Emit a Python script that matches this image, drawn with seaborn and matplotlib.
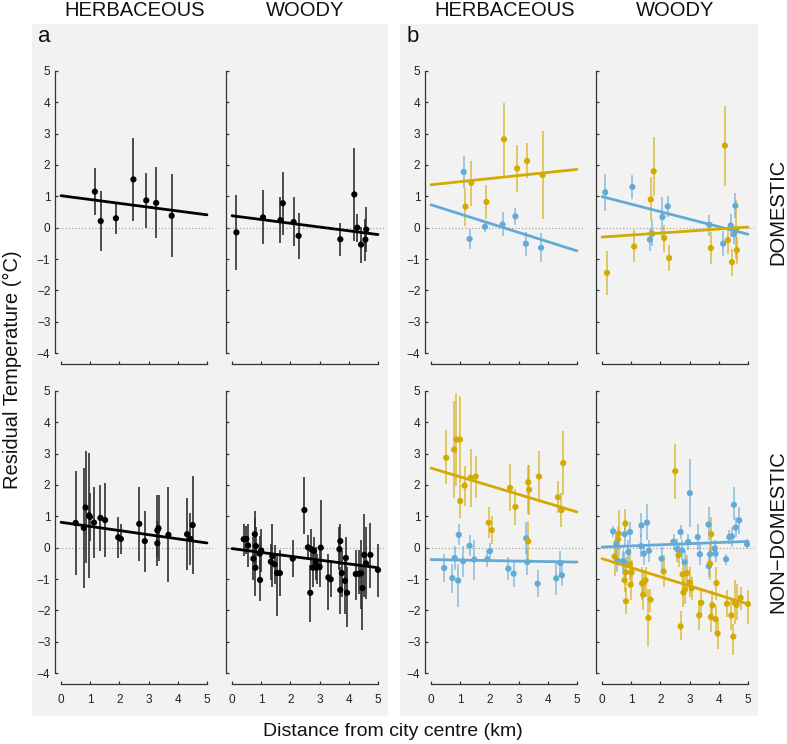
import numpy as np
import pandas as pd
import matplotlib
matplotlib.use("Agg")
import matplotlib.pyplot as plt
from matplotlib.patches import Rectangle
import seaborn as sns

# ---------------- datos ----------------
# panel a: todos los sitios juntos
a_herb_dom_x = [1.16, 1.36, 1.88, 2.48, 2.92, 3.26, 3.79]
a_herb_dom_y = [1.15, 0.21, 0.30, 1.54, 0.87, 0.79, 0.38]
a_herb_dom_lo = [0.40, -0.73, -0.20, 0.22, 0.00, -0.34, -0.94]
a_herb_dom_hi = [1.89, 1.18, 0.79, 2.85, 1.74, 1.94, 1.70]

a_woody_dom_x = [0.15, 1.06, 1.66, 1.74, 2.11, 2.28, 3.71, 4.19, 4.29, 4.42, 4.57, 4.60]
a_woody_dom_y = [-0.15, 0.33, 0.24, 0.78, 0.18, -0.26, -0.37, 1.06, 0.00, -0.54, -0.38, -0.06]
a_woody_dom_lo = [-1.34, -0.51, -0.48, -0.22, -0.60, -0.99, -0.90, -0.43, -0.45, -1.14, -1.05, -0.78]
a_woody_dom_hi = [1.04, 1.20, 0.99, 1.78, 0.99, 0.48, 0.15, 2.53, 0.45, 0.02, 0.28, 0.66]

a_herb_non_x = [0.50, 0.78, 0.84, 0.96, 0.99, 1.13, 1.35, 1.51, 1.96, 2.05,
                2.68, 2.87, 3.30, 3.30, 3.34, 3.68, 4.32, 4.43, 4.51]
a_herb_non_y = [0.79, 0.63, 1.28, 1.03, 0.98, 0.80, 0.95, 0.88, 0.33, 0.28,
                0.76, 0.21, 0.55, 0.14, 0.62, 0.41, 0.43, 0.28, 0.72]
a_herb_non_lo = [-0.86, -1.28, -0.49, -0.96, 0.21, -0.32, -0.12, -0.30, -0.32, -0.20,
                 -0.43, -0.78, -0.60, -0.30, -0.44, -1.10, -0.71, -0.54, -0.83]
a_herb_non_hi = [2.45, 2.55, 3.07, 3.03, 1.74, 1.93, 1.99, 2.07, 0.99, 0.74,
                 1.93, 1.18, 1.69, 0.85, 1.67, 1.93, 1.57, 1.11, 2.28]

a_woody_non_x = [0.40, 0.49, 0.55, 0.73, 0.78, 0.80, 0.82, 0.95, 0.96, 1.00,
                 1.33, 1.38, 1.46, 1.54, 1.64, 2.08, 2.48, 2.60, 2.68, 2.72,
                 2.77, 2.81, 2.87, 2.90, 3.00, 3.04, 3.30, 3.38, 3.68, 3.71,
                 3.71, 3.76, 3.87, 3.90, 3.94, 4.24, 4.35, 4.42, 4.47, 4.53,
                 4.59, 4.74, 5.00]
a_woody_non_y = [0.27, 0.28, 0.07, -0.35, 0.43, -0.64, 0.05, -0.19, -1.03, -0.09,
                 -0.45, -0.27, -0.53, -0.81, -0.81, -0.35, 1.20, 0.01, -1.44, -0.05,
                 -0.64, -0.11, -0.48, -0.64, -0.61, 0.00, -0.95, -1.01, -0.05, 0.21,
                 -1.35, -0.81, -1.06, -0.33, -1.44, -0.84, -0.83, -0.82, -1.29, -0.23,
                 -0.50, -0.23, -0.71]
a_woody_non_lo = [-0.27, -0.19, -0.62, -1.04, -0.51, -1.55, -0.62, -0.72, -1.69, -0.78,
                  -1.04, -1.26, -1.15, -2.17, -1.55, -0.94, 0.45, -0.40, -2.37, -0.72,
                  -1.26, -0.72, -1.04, -1.15, -1.26, -0.72, -2.00, -1.57, -0.72, -0.56,
                  -2.11, -1.57, -2.11, -1.04, -2.53, -1.66, -1.47, -1.95, -2.64, -1.57,
                  -1.63, -1.28, -1.57]
a_woody_non_hi = [0.77, 0.69, 0.74, 0.34, 1.16, 0.95, 0.66, 0.36, -0.40, 0.59,
                  0.13, 0.77, 0.07, -0.19, -0.09, 0.23, 2.24, 0.39, -0.56, 0.59,
                  -0.09, 0.34, 0.02, -0.19, -0.09, 1.51, -0.19, -0.40, 0.66, 0.74,
                  -0.62, -0.09, -0.40, 0.34, -0.62, -0.06, -0.06, 0.23, -0.62, 1.09,
                  0.66, 0.79, 0.13]

# panel b: dos grupos (dorado / azul)
b_herb_dom_gold_x = [1.18, 1.38, 1.90, 2.50, 2.95, 3.29, 3.82]
b_herb_dom_gold_y = [0.67, 1.43, 0.82, 2.82, 1.89, 2.13, 1.68]
b_herb_dom_gold_lo = [0.06, 0.70, 0.27, 1.66, 1.15, 1.57, 0.28]
b_herb_dom_gold_hi = [1.27, 2.14, 1.36, 3.98, 2.64, 2.69, 3.09]
b_herb_dom_blue_x = [1.12, 1.32, 1.85, 2.45, 2.89, 3.25, 3.77]
b_herb_dom_blue_y = [1.78, -0.36, 0.03, 0.10, 0.36, -0.51, -0.64]
b_herb_dom_blue_lo = [1.28, -0.68, -0.15, -0.28, 0.09, -0.89, -1.11]
b_herb_dom_blue_hi = [2.28, -0.04, 0.15, 0.49, 0.63, -0.15, -0.16]

b_woody_dom_blue_x = [0.11, 1.04, 1.64, 1.72, 2.07, 2.25, 3.68, 4.15, 4.41, 4.52, 4.57]
b_woody_dom_blue_y = [1.13, 1.30, -0.38, -0.19, 0.34, 0.68, 0.09, -0.51, 0.07, -0.21, 0.70]
b_woody_dom_blue_lo = [0.54, 0.93, -0.73, -0.57, -0.30, 0.34, -0.26, -0.89, -0.31, -0.52, 0.30]
b_woody_dom_blue_hi = [1.71, 1.67, -0.04, 0.23, 0.98, 1.00, 0.40, -0.10, 0.44, 0.06, 1.10]
b_woody_dom_gold_x = [0.17, 1.10, 1.67, 1.77, 2.13, 2.30, 3.73, 4.21, 4.31, 4.45, 4.59, 4.62]
b_woody_dom_gold_y = [-1.44, -0.60, 0.90, 1.80, -0.33, -0.97, -0.65, 2.62, -0.40, -1.10, -0.06, -0.72]
b_woody_dom_gold_lo = [-2.14, -1.11, 0.20, 1.00, -0.77, -1.39, -1.16, 1.34, -0.84, -1.53, -1.00, -1.16]
b_woody_dom_gold_hi = [-0.74, -0.07, 1.61, 2.88, 0.09, -0.55, -0.15, 3.89, -0.10, -0.68, 0.89, -0.31]

b_herb_non_gold_x = [0.52, 0.79, 0.87, 0.99, 1.00, 1.15, 1.36, 1.53, 1.98, 2.08,
                     2.71, 2.89, 3.33, 3.33, 3.36, 3.70, 4.35, 4.47, 4.53]
b_herb_non_gold_y = [2.87, 3.13, 3.45, 3.45, 1.49, 1.98, 2.23, 2.27, 0.80, 0.56,
                     1.91, 1.30, 2.09, 0.20, 1.85, 2.27, 1.61, 1.20, 2.70]
b_herb_non_gold_lo = [2.02, 1.57, 1.96, 2.06, 0.94, 1.32, 1.30, 1.60, 0.31, 0.11,
                      1.17, 0.73, 1.09, -0.40, 1.03, 1.51, 1.11, 0.66, 1.67]
b_herb_non_gold_hi = [3.74, 4.68, 4.94, 4.85, 2.02, 2.62, 3.15, 2.94, 1.30, 1.01,
                      2.66, 1.88, 2.63, 0.84, 2.64, 3.09, 2.12, 1.74, 3.72]
b_herb_non_blue_x = [0.45, 0.73, 0.81, 0.93, 0.95, 1.10, 1.32, 1.48, 1.93, 2.02,
                     2.65, 2.83, 3.26, 3.30, 3.65, 4.29, 4.43, 4.48]
b_herb_non_blue_y = [-0.65, -0.97, -0.33, -1.05, 0.41, -0.43, 0.06, -0.38, -0.37, -0.11,
                     -0.67, -0.83, 0.30, -0.46, -1.15, -0.98, -0.49, -0.88]
b_herb_non_blue_lo = [-1.10, -1.45, -0.72, -1.89, 0.09, -0.94, -0.28, -1.04, -0.62, -0.40,
                      -1.04, -1.26, -0.19, -0.88, -1.57, -1.52, -0.83, -1.23]
b_herb_non_blue_hi = [-0.19, -0.51, 0.04, -0.51, 0.74, 0.04, 0.39, 0.26, -0.09, 0.15,
                      -0.30, -0.46, 0.82, -0.03, -0.72, -0.46, -0.12, -0.51]

b_woody_non_blue_x = [0.38, 0.49, 0.52, 0.71, 0.76, 0.78, 0.90, 0.96, 1.34, 1.35,
                      1.43, 1.54, 1.61, 2.04, 2.45, 2.58, 2.69, 2.74, 2.83, 2.95,
                      3.01, 3.28, 3.35, 3.65, 3.66, 3.70, 3.86, 3.89, 4.25, 4.36,
                      4.45, 4.52, 4.58, 4.70, 4.97]
b_woody_non_blue_y = [0.52, 0.13, -0.40, -0.43, -0.46, 0.43, -0.14, 0.50, 0.05, 0.71,
                      -0.19, 0.80, -0.10, -0.35, 0.19, -0.05, 0.50, -0.09, -0.46, 0.18,
                      1.74, 0.34, -0.21, 0.74, -0.59, -0.21, -0.03, -0.19, -0.37, 0.34,
                      0.36, 1.37, 0.64, 0.87, 0.11]
b_woody_non_blue_lo = [0.34, -0.30, -0.78, -0.83, -0.94, 0.02, -0.56, 0.13, -0.30, 0.34,
                       -0.56, 0.23, -0.46, -0.72, -0.09, -0.46, 0.29, -0.40, -0.83, -0.09,
                       0.66, -0.09, -0.56, 0.23, -0.94, -0.56, -0.30, -0.46, -0.56, 0.13,
                       0.02, 0.87, 0.34, 0.45, -0.03]
b_woody_non_blue_hi = [0.68, 0.45, -0.03, -0.09, -0.14, 0.87, 0.23, 0.82, 0.45, 1.11,
                       0.13, 1.40, 0.23, 0.02, 0.45, 0.29, 0.72, 0.23, -0.09, 0.45,
                       2.82, 0.77, 0.13, 1.30, -0.24, 0.13, 0.23, 0.07, -0.19, 0.55,
                       0.66, 1.94, 0.98, 1.30, 0.29]
b_woody_non_gold_x = [0.43, 0.55, 0.57, 0.77, 0.80, 0.82, 0.82, 0.95, 0.98, 1.01,
                      1.37, 1.41, 1.43, 1.49, 1.59, 1.66, 2.11, 2.51, 2.62, 2.69,
                      2.76, 2.79, 2.84, 2.91, 3.00, 3.07, 3.33, 3.40, 3.70, 3.74,
                      3.73, 3.78, 3.89, 3.92, 3.96, 4.28, 4.43, 4.50, 4.55, 4.61,
                      4.75, 5.00]
b_woody_non_gold_y = [-0.28, 0.27, 0.45, -1.04, 0.77, -0.78, -1.71, -0.53, -1.18, -0.79,
                      -1.14, -1.50, -1.10, -1.04, -2.24, -1.66, -0.76, 2.44, -0.24, -2.51,
                      -0.85, -1.43, -1.34, -0.81, -1.11, -1.30, -2.16, -1.76, -0.51, 0.43,
                      -2.21, -1.84, -2.28, -1.13, -2.74, -1.79, -2.16, -2.84, -1.76, -1.83,
                      -1.60, -1.80]
b_woody_non_gold_lo = [-0.91, -0.09, -0.30, -1.41, 0.34, -1.20, -2.11, -1.04, -1.68, -1.26,
                       -1.68, -2.00, -1.47, -1.57, -3.17, -2.05, -1.26, 1.54, -0.62, -2.96,
                       -1.26, -1.89, -1.79, -1.31, -1.57, -1.68, -2.64, -2.11, -1.04, -0.14,
                       -2.69, -2.32, -2.74, -1.68, -3.22, -2.21, -2.64, -3.44, -2.43, -2.32,
                       -2.00, -2.43]
b_woody_non_gold_hi = [0.23, 0.66, 1.19, -0.72, 1.24, -0.30, -1.26, -0.03, -0.72, -0.40,
                       -0.62, -1.04, -0.72, -0.62, -1.31, -1.31, -0.24, 3.32, 0.13, -2.02,
                       -0.40, -0.99, -0.83, -0.24, -0.62, -0.94, -1.68, -1.36, -0.03, 0.98,
                       -1.73, -1.36, -1.84, -0.62, -2.32, -1.36, -1.68, -2.43, -1.04, -1.15,
                       -1.26, -1.36]

# rectas ajustadas: (intercepto, pendiente)
fit_a_herb_dom = (1.02, -0.122)
fit_a_woody_dom = (0.38, -0.120)
fit_a_herb_non = (0.81, -0.132)
fit_a_woody_non = (-0.03, -0.122)
fit_b_herb_dom_gold = (1.37, 0.098)
fit_b_herb_dom_blue = (0.73, -0.294)
fit_b_woody_dom_gold = (-0.30, 0.064)
fit_b_woody_dom_blue = (0.99, -0.240)
fit_b_herb_non_gold = (2.54, -0.280)
fit_b_herb_non_blue = (-0.38, -0.016)
fit_b_woody_non_gold = (-0.35, -0.290)
fit_b_woody_non_blue = (0.02, 0.036)

x_ticks = [0, 1, 2, 3, 4, 5]
y_ticks = [-4, -3, -2, -1, 0, 1, 2, 3, 4, 5]
col_titles = ["HERBACEOUS", "WOODY"]
row_titles = ["DOMESTIC", "NON\u2212DOMESTIC"]

NEGRO = "black"
DORADO = "#d4aa00"
AZUL = "#64aad6"

# ---------------- figura ----------------
sns.set_theme(style="ticks")
plt.rcParams["font.family"] = ["Liberation Sans", "DejaVu Sans"]
plt.rcParams["axes.unicode_minus"] = True

W, H = 787, 744
fig = plt.figure(figsize=(W / 100, H / 100), dpi=100)

def caja(left, top, right, bottom):
    return [left / W, 1 - bottom / H, (right - left) / W, (bottom - top) / H]

# fondos grises de los paneles a y b
for x0, x1 in [(32, 388), (400, 758)]:
    fig.patches.append(Rectangle((x0 / W, 1 - 716 / H), (x1 - x0) / W, (716 - 24) / H,
                                 transform=fig.transFigure, facecolor="#f2f2f2",
                                 edgecolor="none", zorder=-5))

def serie(ax, x, y, lo, hi, color, ebar_color, ebar_alpha, ebar_lw, s):
    ax.vlines(x, lo, hi, color=ebar_color, alpha=ebar_alpha, lw=ebar_lw, zorder=2)
    sns.scatterplot(x=x, y=y, color=color, s=s, edgecolor="none", ax=ax,
                    zorder=3, legend=False)

def recta(ax, fit, color):
    xs = np.array([0.0, 5.0])
    sns.lineplot(x=xs, y=fit[0] + fit[1] * xs, color=color, lw=2.0, ax=ax,
                 zorder=4, legend=False)

def preparar(ax, ylabels, xlabels):
    ax.set_facecolor("none")
    ax.set_xlim(-0.2, 5.2)
    ax.set_ylim(-4.36, 5.36)
    ax.axhline(0, color="#999999", lw=0.8, ls=(0, (1, 2)), zorder=1)
    for s in ["top", "right"]:
        ax.spines[s].set_visible(False)
    ax.spines["left"].set_bounds(-4, 5)
    ax.spines["bottom"].set_bounds(0, 5)
    for s in ["left", "bottom"]:
        ax.spines[s].set_color("#333333")
        ax.spines[s].set_linewidth(0.9)
    ax.set_xticks(x_ticks)
    ax.set_yticks(y_ticks)
    ax.tick_params(direction="in", length=2.5, width=0.9, color="#333333")
    ax.tick_params(axis="y", pad=3.5, labelsize=8.5, labelcolor="#222222")
    ax.tick_params(axis="x", pad=7, labelsize=8.5, labelcolor="#222222")
    if not ylabels:
        ax.set_yticklabels([])
    if not xlabels:
        ax.set_xticklabels([])
    ax.set_xlabel("")
    ax.set_ylabel("")

lefts = [55.2, 226.2, 425.2, 596.2]
rows = [(59.7, 364.3), (379.7, 684.3)]
ancho = 157.6

def ejes(col, row):
    top, bottom = rows[row]
    return fig.add_axes(caja(lefts[col], top, lefts[col] + ancho, bottom))

# panel a
paneles_a = [
    (0, 0, a_herb_dom_x, a_herb_dom_y, a_herb_dom_lo, a_herb_dom_hi, fit_a_herb_dom),
    (1, 0, a_woody_dom_x, a_woody_dom_y, a_woody_dom_lo, a_woody_dom_hi, fit_a_woody_dom),
    (0, 1, a_herb_non_x, a_herb_non_y, a_herb_non_lo, a_herb_non_hi, fit_a_herb_non),
    (1, 1, a_woody_non_x, a_woody_non_y, a_woody_non_lo, a_woody_non_hi, fit_a_woody_non),
]
for col, row, x, y, lo, hi, fit in paneles_a:
    ax = ejes(col, row)
    serie(ax, x, y, lo, hi, NEGRO, "#303030", 1.0, 1.2, 20)
    recta(ax, fit, NEGRO)
    preparar(ax, ylabels=(col == 0), xlabels=(row == 1))

# panel b
paneles_b = [
    (2, 0, [(b_herb_dom_blue_x, b_herb_dom_blue_y, b_herb_dom_blue_lo, b_herb_dom_blue_hi, AZUL, fit_b_herb_dom_blue),
            (b_herb_dom_gold_x, b_herb_dom_gold_y, b_herb_dom_gold_lo, b_herb_dom_gold_hi, DORADO, fit_b_herb_dom_gold)]),
    (3, 0, [(b_woody_dom_blue_x, b_woody_dom_blue_y, b_woody_dom_blue_lo, b_woody_dom_blue_hi, AZUL, fit_b_woody_dom_blue),
            (b_woody_dom_gold_x, b_woody_dom_gold_y, b_woody_dom_gold_lo, b_woody_dom_gold_hi, DORADO, fit_b_woody_dom_gold)]),
    (2, 1, [(b_herb_non_blue_x, b_herb_non_blue_y, b_herb_non_blue_lo, b_herb_non_blue_hi, AZUL, fit_b_herb_non_blue),
            (b_herb_non_gold_x, b_herb_non_gold_y, b_herb_non_gold_lo, b_herb_non_gold_hi, DORADO, fit_b_herb_non_gold)]),
    (3, 1, [(b_woody_non_blue_x, b_woody_non_blue_y, b_woody_non_blue_lo, b_woody_non_blue_hi, AZUL, fit_b_woody_non_blue),
            (b_woody_non_gold_x, b_woody_non_gold_y, b_woody_non_gold_lo, b_woody_non_gold_hi, DORADO, fit_b_woody_non_gold)]),
]
for col, row, series in paneles_b:
    ax = ejes(col, row)
    for x, y, lo, hi, color, fit in series:
        serie(ax, x, y, lo, hi, color, color, 0.75, 1.1, 20)
    for x, y, lo, hi, color, fit in series:
        recta(ax, fit, color)
    preparar(ax, ylabels=(col == 2), xlabels=(row == 1))

# textos
for col in range(4):
    fig.text((lefts[col] + ancho / 2 + 0.5) / W, 1 - 11 / H, col_titles[col % 2],
             ha="center", va="center", fontsize=14.5, color="#111111")
fig.text(38 / W, 1 - 36 / H, "a", ha="left", va="center", fontsize=16, color="#111111")
fig.text(407 / W, 1 - 36 / H, "b", ha="left", va="center", fontsize=16, color="#111111")
fig.text(778 / W, 1 - 212 / H, row_titles[0], rotation=90, ha="center", va="center",
         fontsize=14.5, color="#111111")
fig.text(778 / W, 1 - 532 / H, row_titles[1], rotation=90, ha="center", va="center",
         fontsize=14.5, color="#111111")
fig.text(12 / W, 1 - 370 / H, "Residual Temperature (\u00b0C)", rotation=90,
         ha="center", va="center", fontsize=14.5, color="#111111")
fig.text(393 / W, 1 - 731 / H, "Distance from city centre (km)", ha="center", va="center",
         fontsize=14, color="#111111")

fig.savefig("out.png", dpi=100, facecolor="white")
